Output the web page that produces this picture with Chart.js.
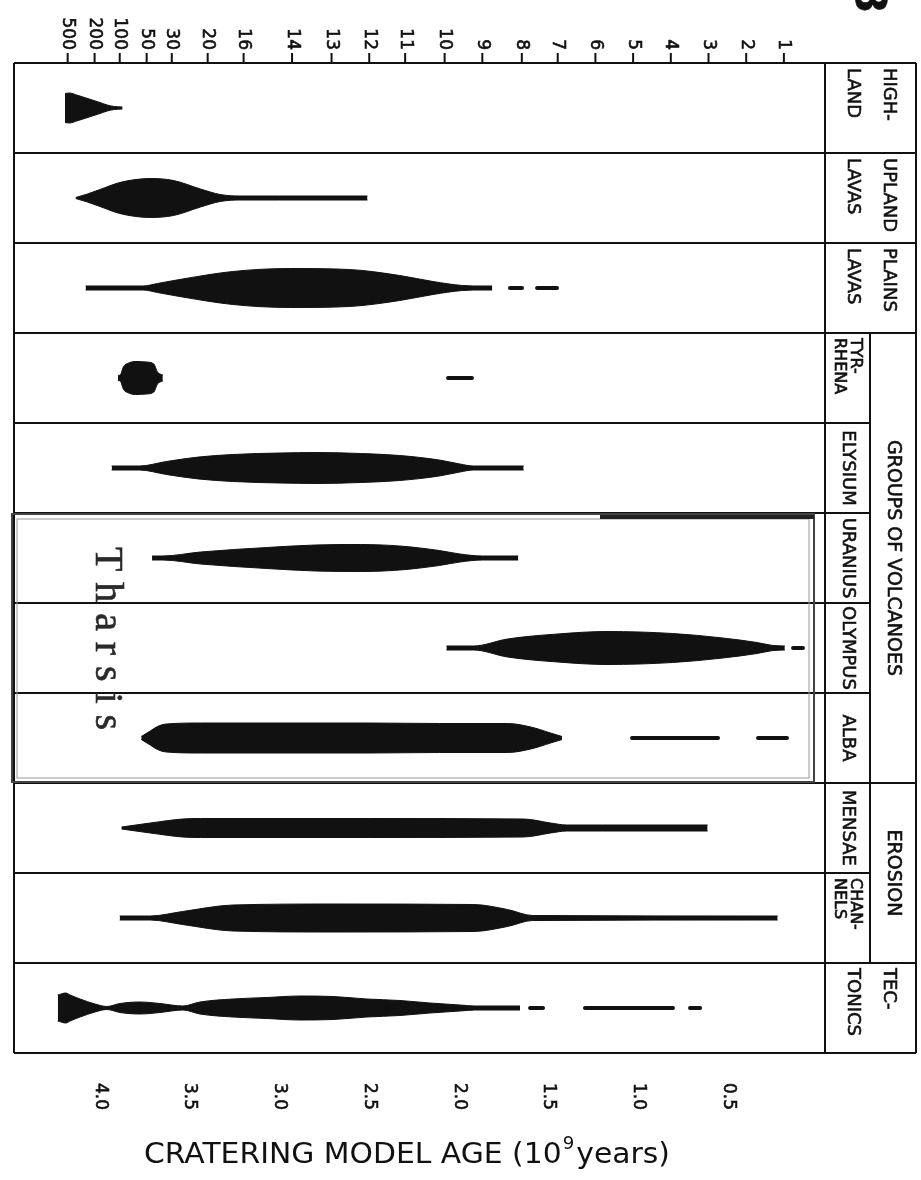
<!DOCTYPE html>
<html>
<head>
<meta charset="utf-8">
<script src="https://cdn.jsdelivr.net/npm/chart.js@4.4.0/dist/chart.umd.min.js"></script>
<style>
  html, body { margin: 0; padding: 0; background: #fff; }
  #chart { display: block; }
</style>
</head>
<body>
<canvas id="chart" width="921" height="1180"></canvas>
<script>
// units, top to bottom
const rowLabels = [
  ['HIGH-', 'LAND'], ['UPLAND', 'LAVAS'], ['PLAINS', 'LAVAS'], ['TYR-', 'RHENA'],
  ['ELYSIUM'], ['URANIUS'], ['OLYMPUS'], ['ALBA'], ['MENSAE'], ['CHAN-', 'NELS'], ['TEC-', 'TONICS']
];
const groupLabels = ['GROUPS OF VOLCANOES', 'EROSION'];
const groupRows = [[3, 7], [8, 9]];

// bottom axis: cratering model age (10^9 years)
const ageTicks = [4.0, 3.5, 3.0, 2.5, 2.0, 1.5, 1.0, 0.5];
// top axis: crater stratigraphic numbers and the age each one sits at
const craterLabels = ['500', '200', '100', '50', '30', '20', '16', '14', '13', '12', '11', '10', '9', '8', '7', '6', '5', '4', '3', '2', '1'];
const craterAges = [4.18, 4.03, 3.89, 3.74, 3.60, 3.40, 3.20, 2.93, 2.71, 2.50, 2.30, 2.08, 1.87, 1.65, 1.45, 1.24, 1.03, 0.82, 0.61, 0.40, 0.19];

// age distributions: age (Ga) and relative frequency (shape thickness)
const highlandAges = [4.195, 4.17, 4.13, 4.06, 4.00, 3.96, 3.92, 3.875];
const highlandFreq = [29, 30, 26, 18, 11, 6, 3, 2];
const uplandAges = [4.135, 4.07, 4.00, 3.89, 3.80, 3.72, 3.59, 3.44, 3.33, 3.22, 3.0, 2.51];
const uplandFreq = [1, 8, 17, 31, 37, 39, 35, 18, 7, 4, 4, 4];
const plainsAges = [4.08, 3.76, 3.68, 3.54, 3.26, 2.94, 2.61, 2.33, 2.145, 1.98, 1.87, 1.815];
const plainsFreq = [4, 4, 9, 18, 33, 39, 37, 25, 13, 5, 4, 4];
const tyrrhenaAges = [3.90, 3.885, 3.87, 3.84, 3.80, 3.74, 3.70, 3.68, 3.665, 3.65];
const tyrrhenaFreq = [5, 7, 22, 30, 33, 32, 28, 12, 8, 6];
const elysiumAges = [3.935, 3.78, 3.63, 3.45, 3.26, 3.0, 2.79, 2.55, 2.33, 2.11, 1.995, 1.92, 1.64];
const elysiumFreq = [4, 4, 13, 22, 27, 30, 31, 29, 25, 16, 8, 4, 4];
const uraniusAges = [3.71, 3.65, 3.44, 3.07, 2.80, 2.55, 2.33, 2.11, 1.995, 1.87, 1.67];
const uraniusFreq = [4, 4, 12, 21, 26, 27, 24, 15, 8, 4, 4];
const olympusAges = [2.07, 1.92, 1.73, 1.45, 1.175, 0.81, 0.53, 0.34, 0.25, 0.185];
const olympusFreq = [4, 4, 18, 28, 33, 29, 20, 11, 5, 4];
const albaAges = [3.77, 3.72, 3.68, 3.63, 3.44, 2.5, 2.11, 1.73, 1.60, 1.49, 1.426];
const albaFreq = [3, 14, 23, 28, 30, 30, 29, 29, 22, 10, 3];
const mensaeAges = [3.88, 3.72, 3.54, 3.44, 2.5, 1.64, 1.49, 1.40, 1.2, 0.615];
const mensaeFreq = [2, 10, 18, 19, 19, 18, 10, 6, 6, 6];
const channelsAges = [3.89, 3.72, 3.54, 3.26, 2.70, 1.92, 1.73, 1.59, 0.225];
const channelsFreq = [4, 4, 13, 26, 28, 27, 17, 5, 4];
const tectonicsAges = [4.235, 4.19, 4.167, 4.111, 4.028, 3.961, 3.889, 3.777, 3.666, 3.538, 3.443, 3.259, 3.07, 2.886, 2.702, 2.513, 2.329, 2.162, 1.994, 1.911, 1.66];
const tectonicsFreq = [26, 30, 26, 18, 8, 3, 9, 12, 9, 4, 12, 18, 21, 24, 23, 18, 15, 10, 6, 4, 4];

// isolated age ranges drawn as short bars (from, to)
const plainsDashes = [[1.716, 1.649], [1.565, 1.454]];
const tyrrhenaDashes = [[2.061, 1.928]];
const olympusDashes = [[0.139, 0.084]];
const albaDashes = [[1.036, 0.557], [0.334, 0.173]];
const tectonicsDashes = [[1.604, 1.532], [1.298, 0.808], [0.713, 0.657]];

const shapes = [
  [highlandAges, highlandFreq, []],
  [uplandAges, uplandFreq, []],
  [plainsAges, plainsFreq, plainsDashes],
  [tyrrhenaAges, tyrrhenaFreq, tyrrhenaDashes],
  [elysiumAges, elysiumFreq, []],
  [uraniusAges, uraniusFreq, []],
  [olympusAges, olympusFreq, olympusDashes],
  [albaAges, albaFreq, albaDashes],
  [mensaeAges, mensaeFreq, []],
  [channelsAges, channelsFreq, []],
  [tectonicsAges, tectonicsFreq, tectonicsDashes]
];

const ink = '#111';
const FREQ_TO_ROW = 1 / 180; // half thickness in row units
const FONT = '"DejaVu Sans", sans-serif';

const datasets = [];
shapes.forEach(([ages, freq, dashes], row) => {
  datasets.push({
    data: ages.map((a, i) => ({ x: a, y: row - freq[i] * FREQ_TO_ROW })),
    borderColor: ink, borderWidth: 1, pointRadius: 0, fill: false,
    cubicInterpolationMode: 'monotone'
  });
  datasets.push({
    data: ages.map((a, i) => ({ x: a, y: row + freq[i] * FREQ_TO_ROW })),
    borderColor: ink, backgroundColor: ink, borderWidth: 1, pointRadius: 0, fill: '-1',
    cubicInterpolationMode: 'monotone'
  });
  dashes.forEach(([a0, a1]) => {
    datasets.push({
      data: [{ x: a0, y: row }, { x: a1, y: row }],
      borderColor: ink, borderWidth: 4, borderCapStyle: 'round', pointRadius: 0, fill: false
    });
  });
});

// text rotated a quarter turn clockwise (reads top to bottom), slightly heavy like the plotter lettering
function vText(ctx, text, x, y, align) {
  ctx.save();
  ctx.translate(x, y);
  ctx.rotate(Math.PI / 2);
  ctx.textAlign = align;
  ctx.textBaseline = 'middle';
  ctx.fillText(text, 0, 0);
  ctx.lineWidth = 0.6;
  ctx.strokeStyle = ctx.fillStyle;
  ctx.strokeText(text, 0, 0);
  ctx.restore();
}

const LABEL_MID = 870, FRAME_RIGHT = 916;

const framePlugin = {
  id: 'frame',
  beforeDraw(chart) {
    const ctx = chart.ctx;
    ctx.save();
    ctx.fillStyle = '#fff';
    ctx.fillRect(0, 0, chart.width, chart.height);
    ctx.restore();
  },
  afterDraw(chart) {
    const { ctx, chartArea: a, scales: { x, y } } = chart;
    ctx.save();
    ctx.strokeStyle = ink;
    ctx.fillStyle = ink;
    ctx.lineWidth = 2;

    // row separators
    const inner = new Set();
    groupRows.forEach(([r0, r1]) => { for (let r = r0 + 1; r <= r1; r++) inner.add(r); });
    for (let r = 0; r <= rowLabels.length; r++) {
      const yy = y.getPixelForValue(r - 0.5);
      ctx.beginPath();
      ctx.moveTo(a.left, yy);
      ctx.lineTo(inner.has(r) ? LABEL_MID : FRAME_RIGHT, yy);
      ctx.stroke();
    }
    // verticals
    ctx.beginPath();
    ctx.moveTo(a.left, a.top); ctx.lineTo(a.left, a.bottom);
    ctx.moveTo(a.right, a.top); ctx.lineTo(a.right, a.bottom);
    ctx.moveTo(FRAME_RIGHT, a.top); ctx.lineTo(FRAME_RIGHT, a.bottom);
    ctx.moveTo(LABEL_MID, y.getPixelForValue(2.5)); ctx.lineTo(LABEL_MID, y.getPixelForValue(9.5));
    ctx.stroke();

    // top axis: crater numbers
    ctx.font = '17px ' + FONT;
    craterAges.forEach((age, i) => {
      const px = x.getPixelForValue(age);
      ctx.lineWidth = 2;
      ctx.beginPath();
      ctx.moveTo(px, a.top);
      ctx.lineTo(px, a.top - 10);
      ctx.stroke();
      vText(ctx, craterLabels[i], px, a.top - 13, 'right');
    });

    // bottom axis: age labels
    ageTicks.forEach(v => {
      vText(ctx, v.toFixed(1), x.getPixelForValue(v), a.bottom + 30, 'left');
    });

    // unit labels
    rowLabels.forEach((lines, r) => {
      const top = y.getPixelForValue(r - 0.5);
      const mid = y.getPixelForValue(r);
      const grouped = groupRows.some(g => r >= g[0] && r <= g[1]);
      if (lines.length === 1) {
        ctx.font = '18px ' + FONT;
        vText(ctx, lines[0], (a.right + LABEL_MID) / 2, mid, 'center');
      } else if (grouped) {
        ctx.font = '16px ' + FONT;
        const cx = (a.right + LABEL_MID) / 2;
        vText(ctx, lines[0], cx + 8, top + 5, 'left');
        vText(ctx, lines[1], cx - 8, top + 5, 'left');
      } else {
        ctx.font = '18px ' + FONT;
        const cx = (a.right + FRAME_RIGHT) / 2;
        vText(ctx, lines[0], cx + 18, top + 5, 'left');
        vText(ctx, lines[1], cx - 18, top + 5, 'left');
      }
    });
    // group labels
    ctx.font = '19px ' + FONT;
    groupRows.forEach(([r0, r1], i) => {
      vText(ctx, groupLabels[i], (LABEL_MID + FRAME_RIGHT) / 2, y.getPixelForValue((r0 + r1) / 2), 'center');
    });

    // hand-drawn box around the Tharsis volcanoes
    const bTop = y.getPixelForValue(4.5), bBot = y.getPixelForValue(7.5);
    ctx.strokeStyle = '#444';
    ctx.lineWidth = 2;
    ctx.strokeRect(12, bTop + 1, 802, bBot - bTop - 2);
    ctx.strokeStyle = '#9a9a9a';
    ctx.lineWidth = 1;
    ctx.strokeRect(17, bTop + 6, 792, bBot - bTop - 11);
    ctx.strokeStyle = '#222';
    ctx.lineWidth = 4;
    ctx.beginPath();
    ctx.moveTo(600, bTop + 4);
    ctx.lineTo(814, bTop + 4);
    ctx.stroke();

    // handwritten note
    ctx.fillStyle = '#2a2a2a';
    ctx.font = '40px "Liberation Serif", serif';
    const note = 'Tharsis';
    const w = ctx.measureText(note).width;
    ctx.letterSpacing = Math.max(0, (183 - w) / (note.length - 1)) + 'px';
    vText(ctx, note, 106, 547, 'left');
    ctx.letterSpacing = '0px';

    // figure number, cut at the page edge
    ctx.fillStyle = ink;
    ctx.font = 'bold 42px ' + FONT;
    vText(ctx, '8', 867, -2, 'center');

    // axis title
    ctx.font = '28px ' + FONT;
    ctx.textAlign = 'left';
    ctx.textBaseline = 'alphabetic';
    const partA = 'CRATERING MODEL AGE (10', partB = 'years)';
    const wA = ctx.measureText(partA).width, wB = ctx.measureText(partB).width;
    ctx.font = '17px ' + FONT;
    const wS = ctx.measureText('9').width;
    const sx = 526 / (wA + wS + 3 + wB);
    ctx.save();
    ctx.translate(144, 1163);
    ctx.scale(sx, 1);
    ctx.font = '28px ' + FONT;
    ctx.fillText(partA, 0, 0);
    ctx.fillText(partB, wA + wS + 3, 0);
    ctx.font = '17px ' + FONT;
    ctx.fillText('9', wA + 1, -14);
    ctx.restore();

    ctx.restore();
  }
};

new Chart(document.getElementById('chart'), {
  type: 'line',
  data: { datasets },
  options: {
    responsive: false,
    animation: false,
    devicePixelRatio: 1,
    layout: { padding: { left: 14, right: 921 - 825, top: 63, bottom: 1180 - 1053 } },
    scales: {
      x: { type: 'linear', reverse: true, min: -0.039, max: 4.479, display: false },
      y: { type: 'linear', reverse: true, min: -0.5, max: 10.5, display: false }
    },
    plugins: { legend: { display: false }, tooltip: { enabled: false } }
  },
  plugins: [framePlugin]
});
</script>
</body>
</html>
